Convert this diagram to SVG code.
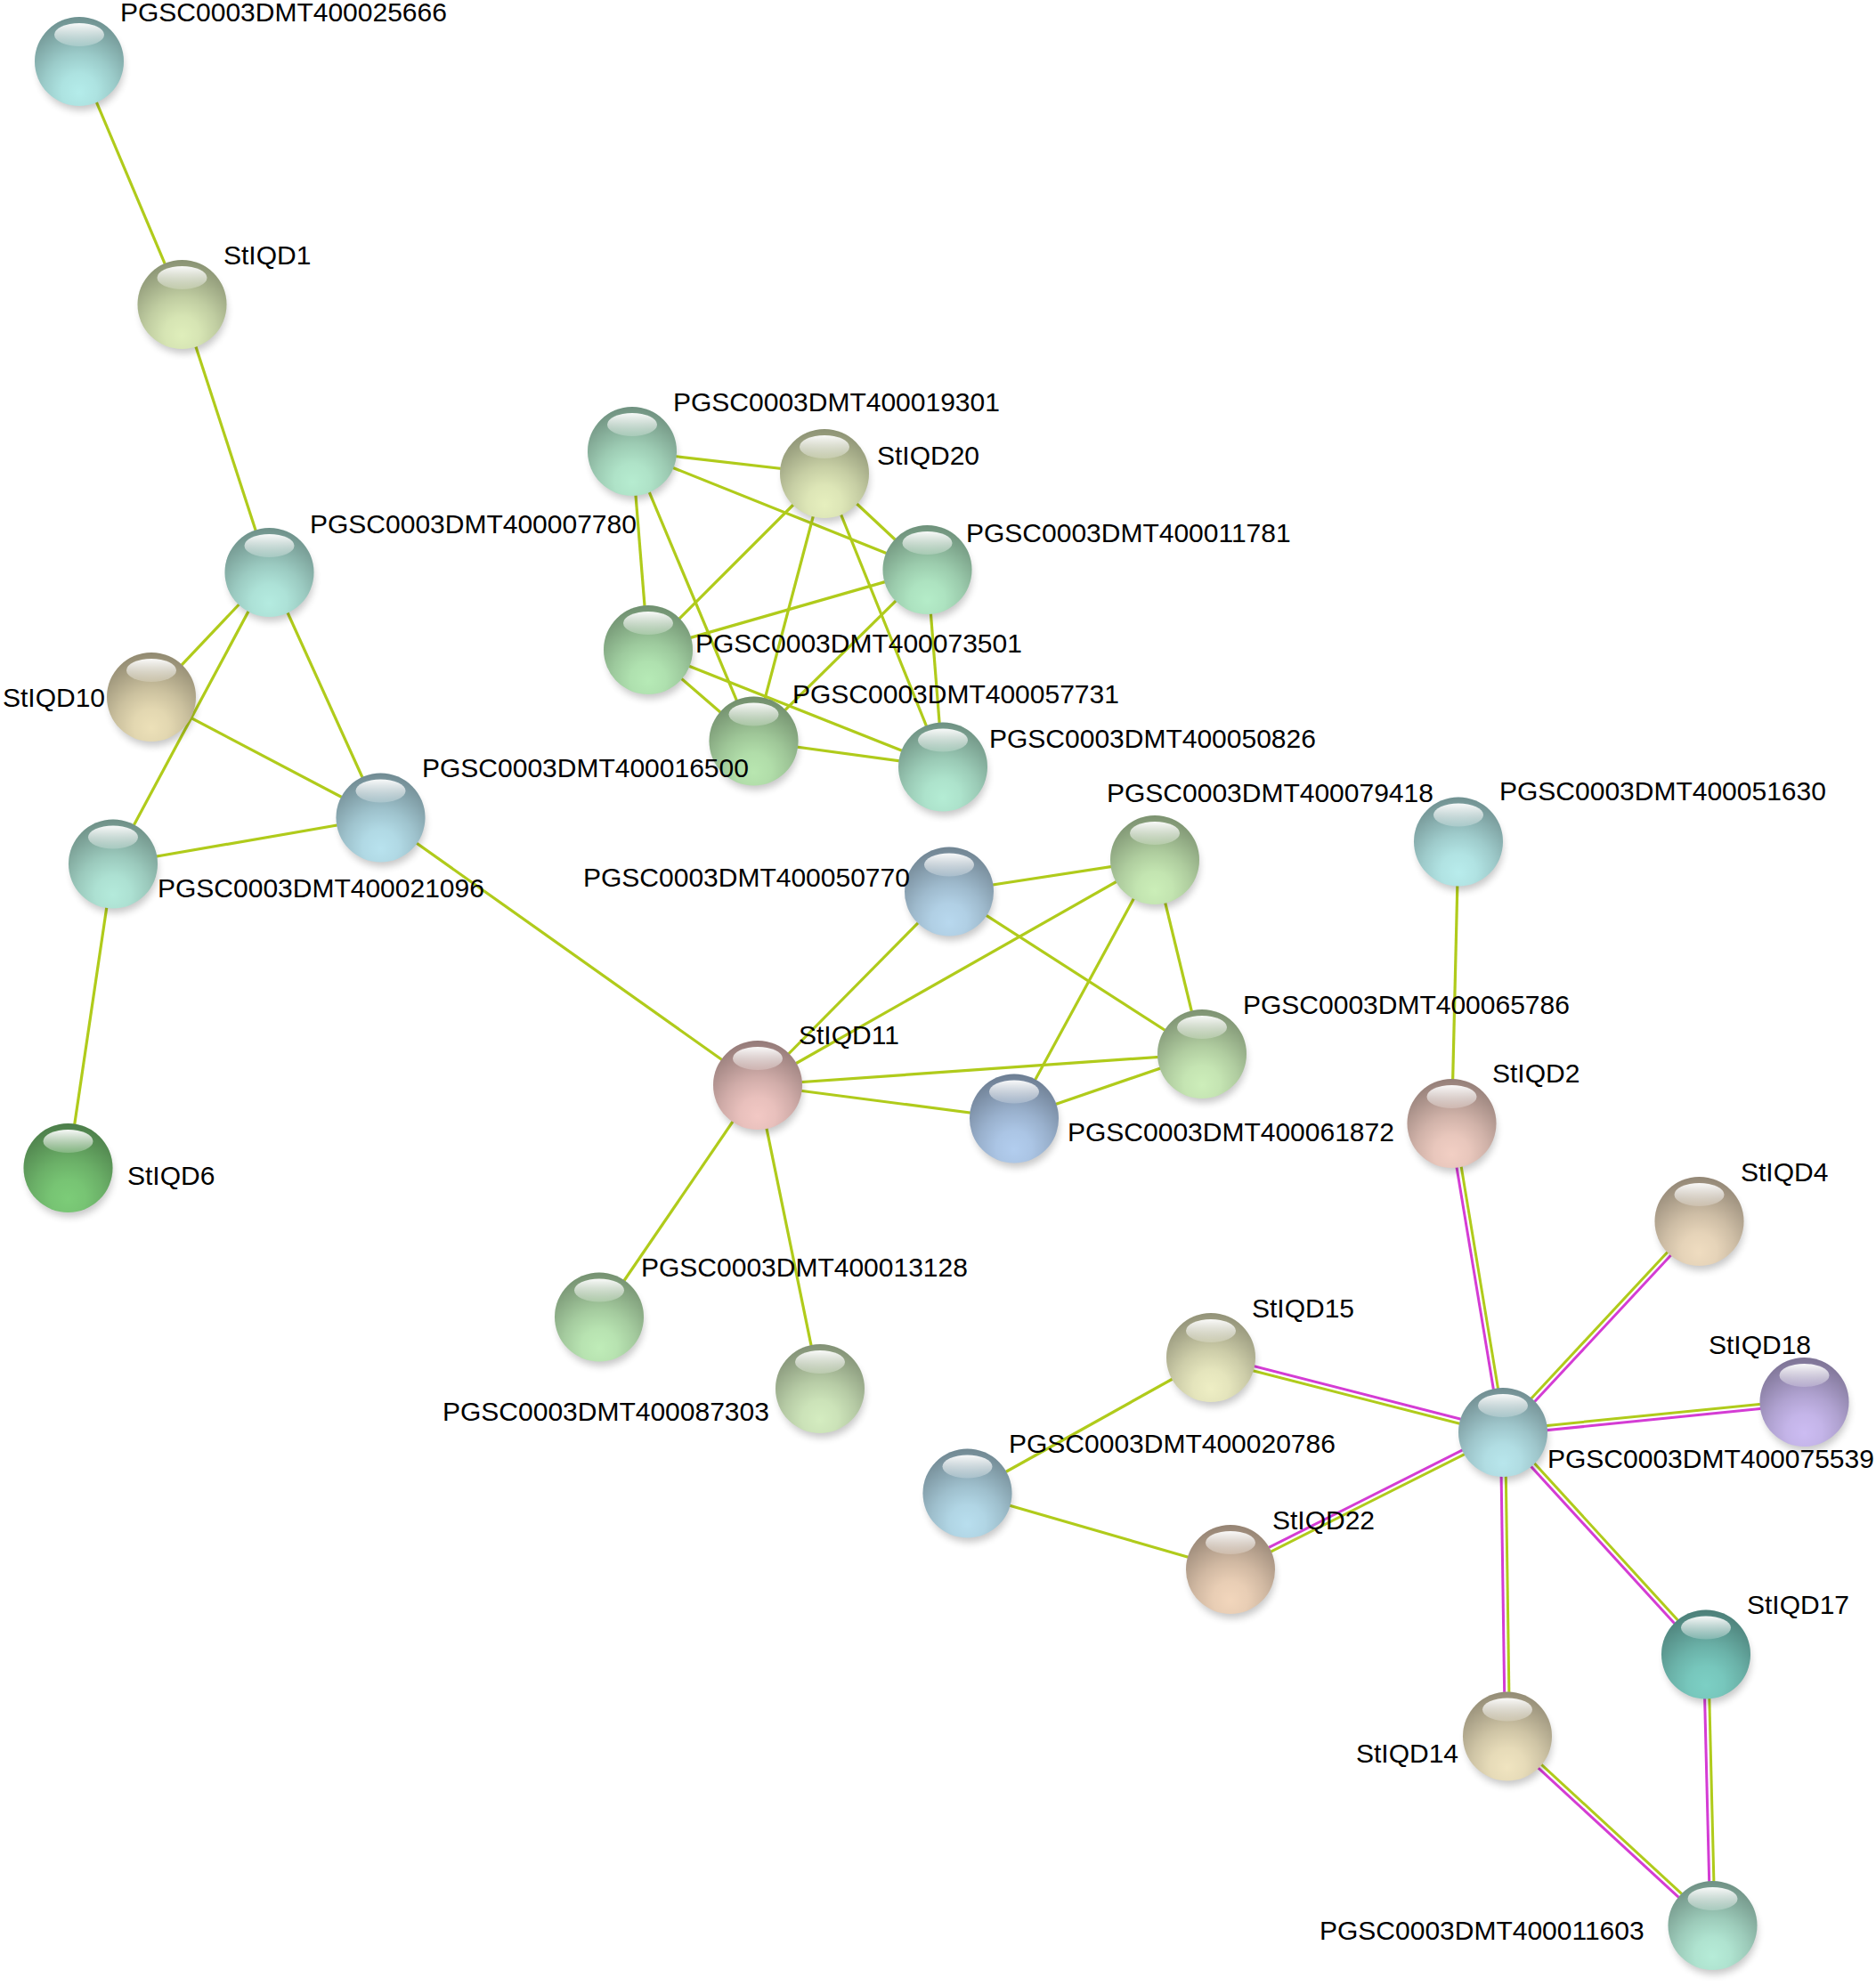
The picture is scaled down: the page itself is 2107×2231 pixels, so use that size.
<svg xmlns="http://www.w3.org/2000/svg" xmlns:xlink="http://www.w3.org/1999/xlink" width="2107" height="2231" viewBox="0 0 2107 2231">
<style>
.e{stroke:#b0cb1b;stroke-width:3.2;fill:none}
.m{stroke:#d43cd4;stroke-width:3;fill:none}
.g{stroke:#b0cb1b;stroke-width:3;fill:none}
text{font-family:"Liberation Sans",Arial,sans-serif;font-size:30px;fill:#000}
</style>
<defs>
<radialGradient id="shade" cx="0.5" cy="0.78" r="0.8" fx="0.5" fy="0.85">
<stop offset="0" stop-color="#000" stop-opacity="0"/>
<stop offset="0.25" stop-color="#000" stop-opacity="0.04"/>
<stop offset="0.5" stop-color="#000" stop-opacity="0.14"/>
<stop offset="0.8" stop-color="#000" stop-opacity="0.3"/>
<stop offset="1" stop-color="#000" stop-opacity="0.4"/>
</radialGradient>
<linearGradient id="hl" x1="0" y1="0" x2="0" y2="1">
<stop offset="0" stop-color="#fff" stop-opacity="0.95"/>
<stop offset="1" stop-color="#fff" stop-opacity="0.2"/>
</linearGradient>
<filter id="blur" x="-30%" y="-30%" width="160%" height="160%"><feGaussianBlur stdDeviation="4"/></filter>
<circle id="shadow" cx="2" cy="7" r="48" fill="#000" opacity="0.22" filter="url(#blur)"/>
<g id="gloss">
<circle r="50" fill="url(#shade)"/>
<ellipse cy="-30" rx="28" ry="13" fill="url(#hl)"/>
</g>
</defs>
<rect width="2107" height="2231" fill="#fff"/>
<g id="connectors">
<line class="e" x1="89" y1="69" x2="204.5" y2="342"/>
<line class="e" x1="204.5" y1="342" x2="302.5" y2="643"/>
<line class="e" x1="302.5" y1="643" x2="170" y2="783"/>
<line class="e" x1="302.5" y1="643" x2="127" y2="970.5"/>
<line class="e" x1="302.5" y1="643" x2="427.5" y2="918.5"/>
<line class="e" x1="170" y1="783" x2="427.5" y2="918.5"/>
<line class="e" x1="127" y1="970.5" x2="427.5" y2="918.5"/>
<line class="e" x1="127" y1="970.5" x2="76.5" y2="1312"/>
<line class="e" x1="427.5" y1="918.5" x2="851" y2="1219"/>
<line class="e" x1="710" y1="507" x2="926" y2="532"/>
<line class="e" x1="710" y1="507" x2="1041.5" y2="640"/>
<line class="e" x1="710" y1="507" x2="728" y2="730"/>
<line class="e" x1="710" y1="507" x2="846.5" y2="832.5"/>
<line class="e" x1="926" y1="532" x2="728" y2="730"/>
<line class="e" x1="926" y1="532" x2="846.5" y2="832.5"/>
<line class="e" x1="926" y1="532" x2="1059" y2="861.5"/>
<line class="e" x1="926" y1="532" x2="1041.5" y2="640"/>
<line class="e" x1="1041.5" y1="640" x2="728" y2="730"/>
<line class="e" x1="1041.5" y1="640" x2="846.5" y2="832.5"/>
<line class="e" x1="1041.5" y1="640" x2="1059" y2="861.5"/>
<line class="e" x1="728" y1="730" x2="846.5" y2="832.5"/>
<line class="e" x1="728" y1="730" x2="1059" y2="861.5"/>
<line class="e" x1="846.5" y1="832.5" x2="1059" y2="861.5"/>
<line class="e" x1="851" y1="1219" x2="1066" y2="1001.5"/>
<line class="e" x1="851" y1="1219" x2="1297" y2="966"/>
<line class="e" x1="851" y1="1219" x2="1350" y2="1184"/>
<line class="e" x1="851" y1="1219" x2="1139" y2="1256.5"/>
<line class="e" x1="851" y1="1219" x2="673" y2="1479.5"/>
<line class="e" x1="851" y1="1219" x2="921" y2="1560"/>
<line class="e" x1="1066" y1="1001.5" x2="1297" y2="966"/>
<line class="e" x1="1066" y1="1001.5" x2="1350" y2="1184"/>
<line class="e" x1="1297" y1="966" x2="1350" y2="1184"/>
<line class="e" x1="1297" y1="966" x2="1139" y2="1256.5"/>
<line class="e" x1="1139" y1="1256.5" x2="1350" y2="1184"/>
<line class="e" x1="1638" y1="945.5" x2="1630.5" y2="1262"/>
<line class="e" x1="1360" y1="1525" x2="1086.5" y2="1677.5"/>
<line class="e" x1="1086.5" y1="1677.5" x2="1382" y2="1763"/>
<line class="m" x1="1627.94" y1="1262.43" x2="1685.44" y2="1609.43"/>
<line class="g" x1="1633.07" y1="1261.58" x2="1690.57" y2="1608.58"/>
<line class="m" x1="1689.9" y1="1610.77" x2="1910.4" y2="1373.77"/>
<line class="g" x1="1686.1" y1="1607.23" x2="1906.6" y2="1370.23"/>
<line class="m" x1="1688.26" y1="1611.59" x2="2026.76" y2="1577.59"/>
<line class="g" x1="1687.74" y1="1606.41" x2="2026.24" y2="1572.41"/>
<line class="m" x1="1688.65" y1="1606.48" x2="1360.65" y2="1522.48"/>
<line class="g" x1="1687.35" y1="1611.52" x2="1359.35" y2="1527.52"/>
<line class="m" x1="1686.83" y1="1606.68" x2="1380.83" y2="1760.68"/>
<line class="g" x1="1689.17" y1="1611.32" x2="1383.17" y2="1765.32"/>
<line class="m" x1="1685.4" y1="1609.04" x2="1690.4" y2="1950.54"/>
<line class="g" x1="1690.6" y1="1608.96" x2="1695.6" y2="1950.46"/>
<line class="m" x1="1686.08" y1="1610.75" x2="1914.08" y2="1860.25"/>
<line class="g" x1="1689.92" y1="1607.25" x2="1917.92" y2="1856.75"/>
<line class="m" x1="1913.4" y1="1858.56" x2="1920.9" y2="2163.06"/>
<line class="g" x1="1918.6" y1="1858.44" x2="1926.1" y2="2162.94"/>
<line class="m" x1="1691.24" y1="1952.41" x2="1921.74" y2="2164.91"/>
<line class="g" x1="1694.76" y1="1948.59" x2="1925.26" y2="2161.09"/>
</g>
<g id="n25666" transform="translate(89,69)"><use href="#shadow"/><circle r="50" fill="#b4ecea"/><use href="#gloss"/><text x="46" y="-45">PGSC0003DMT400025666</text></g>
<g id="StIQD1" transform="translate(204.5,342)"><use href="#shadow"/><circle r="50" fill="#dfeebb"/><use href="#gloss"/><text x="46.5" y="-45">StIQD1</text></g>
<g id="n7780" transform="translate(302.5,643)"><use href="#shadow"/><circle r="50" fill="#b4ebe0"/><use href="#gloss"/><text x="45.5" y="-44">PGSC0003DMT400007780</text></g>
<g id="StIQD10" transform="translate(170,783)"><use href="#shadow"/><circle r="50" fill="#ece0b8"/><use href="#gloss"/><text x="-167" y="11">StIQD10</text></g>
<g id="n21096" transform="translate(127,970.5)"><use href="#shadow"/><circle r="50" fill="#b4eadb"/><use href="#gloss"/><text x="50" y="37.5">PGSC0003DMT400021096</text></g>
<g id="StIQD6" transform="translate(76.5,1312)"><use href="#shadow"/><circle r="50" fill="#7ccc78"/><use href="#gloss"/><text x="66.5" y="19">StIQD6</text></g>
<g id="n19301" transform="translate(710,507)"><use href="#shadow"/><circle r="50" fill="#b6ecd0"/><use href="#gloss"/><text x="46" y="-45">PGSC0003DMT400019301</text></g>
<g id="StIQD20" transform="translate(926,532)"><use href="#shadow"/><circle r="50" fill="#e6efbe"/><use href="#gloss"/><text x="59" y="-10">StIQD20</text></g>
<g id="n11781" transform="translate(1041.5,640)"><use href="#shadow"/><circle r="50" fill="#b4ecc8"/><use href="#gloss"/><text x="43.5" y="-31">PGSC0003DMT400011781</text></g>
<g id="n73501" transform="translate(728,730)"><use href="#shadow"/><circle r="50" fill="#b6eab6"/><use href="#gloss"/><text x="53" y="3">PGSC0003DMT400073501</text></g>
<g id="n57731" transform="translate(846.5,832.5)"><use href="#shadow"/><circle r="50" fill="#b8e6b0"/><use href="#gloss"/><text x="43.5" y="-42.5">PGSC0003DMT400057731</text></g>
<g id="n50826" transform="translate(1059,861.5)"><use href="#shadow"/><circle r="50" fill="#b4ecd4"/><use href="#gloss"/><text x="52" y="-21.5">PGSC0003DMT400050826</text></g>
<g id="n50770" transform="translate(1066,1001.5)"><use href="#shadow"/><circle r="50" fill="#b8d8ee"/><use href="#gloss"/><text x="-411" y="-5.5">PGSC0003DMT400050770</text></g>
<g id="n79418" transform="translate(1297,966)"><use href="#shadow"/><circle r="50" fill="#cbeeb8"/><use href="#gloss"/><text x="-54" y="-65">PGSC0003DMT400079418</text></g>
<g id="n65786" transform="translate(1350,1184)"><use href="#shadow"/><circle r="50" fill="#cdeeba"/><use href="#gloss"/><text x="46" y="-45">PGSC0003DMT400065786</text></g>
<g id="StIQD11" transform="translate(851,1219)"><use href="#shadow"/><circle r="50" fill="#f2c8c4"/><use href="#gloss"/><text x="46" y="-46">StIQD11</text></g>
<g id="n61872" transform="translate(1139,1256.5)"><use href="#shadow"/><circle r="50" fill="#b2cdee"/><use href="#gloss"/><text x="60" y="25.5">PGSC0003DMT400061872</text></g>
<g id="n13128" transform="translate(673,1479.5)"><use href="#shadow"/><circle r="50" fill="#bfecb8"/><use href="#gloss"/><text x="47" y="-45.5">PGSC0003DMT400013128</text></g>
<g id="n87303" transform="translate(921,1560)"><use href="#shadow"/><circle r="50" fill="#d4ecc0"/><use href="#gloss"/><text x="-424" y="36">PGSC0003DMT400087303</text></g>
<g id="n51630" transform="translate(1638,945.5)"><use href="#shadow"/><circle r="50" fill="#b8ecec"/><use href="#gloss"/><text x="46" y="-46.5">PGSC0003DMT400051630</text></g>
<g id="StIQD2" transform="translate(1630.5,1262)"><use href="#shadow"/><circle r="50" fill="#f2cfc4"/><use href="#gloss"/><text x="45.5" y="-46">StIQD2</text></g>
<g id="StIQD4" transform="translate(1908.5,1372)"><use href="#shadow"/><circle r="50" fill="#efdcc0"/><use href="#gloss"/><text x="46.5" y="-45">StIQD4</text></g>
<g id="StIQD18" transform="translate(2026.5,1575)"><use href="#shadow"/><circle r="50" fill="#ccbcf2"/><use href="#gloss"/><text x="-107.5" y="-54">StIQD18</text></g>
<g id="StIQD15" transform="translate(1360,1525)"><use href="#shadow"/><circle r="50" fill="#eeeec4"/><use href="#gloss"/><text x="46" y="-45">StIQD15</text></g>
<g id="n20786" transform="translate(1086.5,1677.5)"><use href="#shadow"/><circle r="50" fill="#b8deee"/><use href="#gloss"/><text x="46.5" y="-45.5">PGSC0003DMT400020786</text></g>
<g id="n75539" transform="translate(1688,1609)"><use href="#shadow"/><circle r="50" fill="#b8e6ec"/><use href="#gloss"/><text x="50" y="40">PGSC0003DMT400075539</text></g>
<g id="StIQD22" transform="translate(1382,1763)"><use href="#shadow"/><circle r="50" fill="#f2d6bc"/><use href="#gloss"/><text x="47" y="-45">StIQD22</text></g>
<g id="StIQD17" transform="translate(1916,1858.5)"><use href="#shadow"/><circle r="50" fill="#7ccfc4"/><use href="#gloss"/><text x="46" y="-46">StIQD17</text></g>
<g id="StIQD14" transform="translate(1693,1950.5)"><use href="#shadow"/><circle r="50" fill="#f0e4c0"/><use href="#gloss"/><text x="-170" y="29">StIQD14</text></g>
<g id="n11603" transform="translate(1923.5,2163)"><use href="#shadow"/><circle r="50" fill="#b6ecd8"/><use href="#gloss"/><text x="-441.5" y="15.6">PGSC0003DMT400011603</text></g>
<g id="n16500" transform="translate(427.5,918.5)"><use href="#shadow"/><circle r="50" fill="#b8e2ee"/><use href="#gloss"/><text x="46.5" y="-45.5">PGSC0003DMT400016500</text></g>
</svg>
